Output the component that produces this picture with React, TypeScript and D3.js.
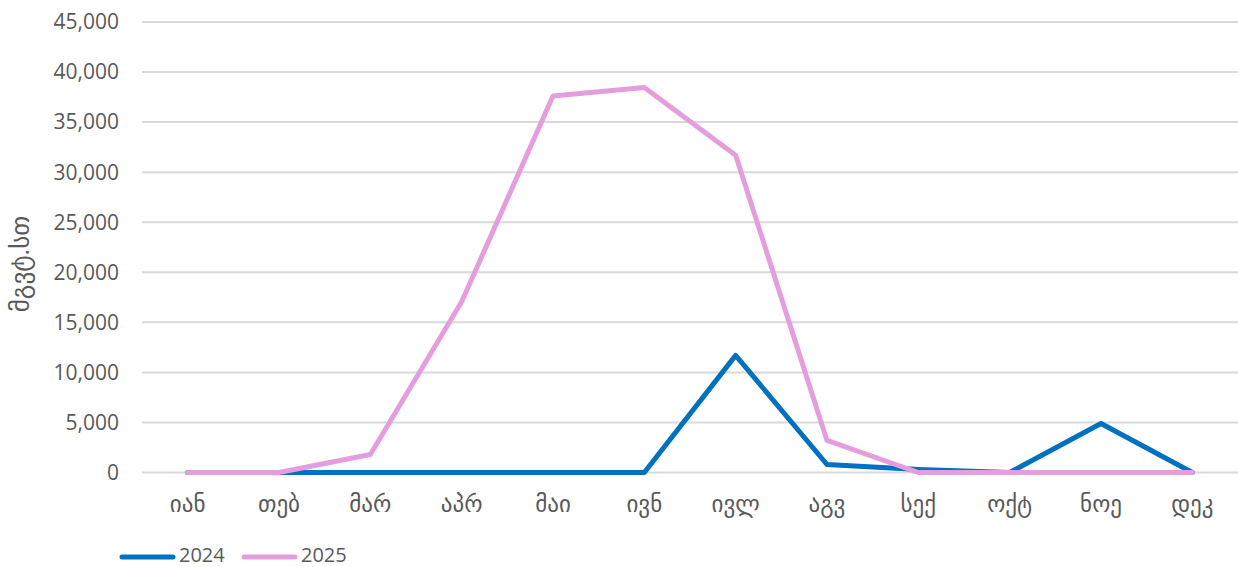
import React, { useEffect, useRef } from 'react'
import * as d3 from 'd3'

// months (Georgian abbreviations)
const months = ['იან', 'თებ', 'მარ', 'აპრ', 'მაი', 'ივნ', 'ივლ', 'აგვ', 'სექ', 'ოქტ', 'ნოე', 'დეკ']
const values2024 = [0, 0, 0, 0, 0, 0, 11700, 800, 300, 0, 4900, 0]
const values2025 = [0, 0, 1800, 17050, 37600, 38450, 31700, 3200, 0, 0, 0, 0]
const yTicks = [0, 5000, 10000, 15000, 20000, 25000, 30000, 35000, 40000, 45000]
const seriesNames = ['2024', '2025']
const seriesColors = ['#0070C0', '#E59EDD']

const W = 1238
const H = 567
const FONT = "'Open Sans', 'DejaVu Sans', sans-serif"

export default function App() {
  const ref = useRef<SVGSVGElement>(null)

  useEffect(() => {
    const svg = d3.select(ref.current)
    svg.selectAll('*').remove()

    const margin = { top: 22, right: 0, bottom: 95, left: 142 }
    const width = W - margin.left - margin.right
    const height = H - margin.top - margin.bottom + 0.5

    const g = svg.append('g').attr('transform', 'translate(' + margin.left + ',' + margin.top + ')')

    const x = d3.scaleBand().domain(months).range([0, width])
    const y = d3.scaleLinear().domain([0, 45000]).range([height, 0])

    // grid lines
    g.selectAll('.grid')
      .data(yTicks)
      .enter()
      .append('line')
      .attr('x1', 0)
      .attr('x2', width)
      .attr('y1', (d) => y(d))
      .attr('y2', (d) => y(d))
      .style('stroke', '#D9D9D9')
      .style('stroke-width', '2px')

    // y tick labels
    const fmt = d3.format(',')
    g.selectAll('.ylab')
      .data(yTicks)
      .enter()
      .append('text')
      .attr('x', -23)
      .attr('y', (d) => y(d))
      .attr('dy', '0.35em')
      .attr('text-anchor', 'end')
      .style('font-family', FONT)
      .style('font-size', '21px')
      .style('fill', '#595959')
      .text((d) => fmt(d))

    // x labels
    g.selectAll('.xlab')
      .data(months)
      .enter()
      .append('text')
      .attr('x', (d) => x(d)! + x.bandwidth() / 2)
      .attr('y', height + 39)
      .attr('text-anchor', 'middle')
      .style('font-family', FONT)
      .style('font-size', '23px')
      .style('fill', '#595959')
      .text((d) => d)

    // axis title
    svg
      .append('text')
      .attr('transform', 'translate(29,264) rotate(-90)')
      .attr('text-anchor', 'middle')
      .style('font-family', FONT)
      .style('font-size', '25px')
      .style('fill', '#595959')
      .text('მგვტ.სთ')

    // lines
    const line = d3
      .line<number>()
      .x((d, i) => x(months[i])! + x.bandwidth() / 2)
      .y((d) => y(d))

    const all = [values2024, values2025]
    all.forEach((vals, i) => {
      g.append('path')
        .datum(vals)
        .attr('d', line)
        .style('fill', 'none')
        .style('stroke', seriesColors[i])
        .style('stroke-width', '5px')
        .style('stroke-linejoin', 'round')
        .style('stroke-linecap', 'round')
    })

    // legend
    const legend = svg.append('g').attr('transform', 'translate(122,557)')
    seriesNames.forEach((name, i) => {
      const lg = legend.append('g').attr('transform', 'translate(' + i * 122 + ',0)')
      lg.append('line')
        .attr('x1', 0)
        .attr('x2', 51)
        .attr('y1', 0)
        .attr('y2', 0)
        .style('stroke', seriesColors[i])
        .style('stroke-width', '5px')
        .style('stroke-linecap', 'round')
      lg.append('text')
        .attr('x', 57)
        .attr('y', 5)
        .style('font-family', FONT)
        .style('font-size', '20px')
        .style('fill', '#595959')
        .text(name)
    })
  }, [])

  return (
    <svg
      ref={ref}
      width={W}
      height={H}
      style={{ position: 'absolute', left: 0, top: 0, background: '#fff' }}
    />
  )
}
